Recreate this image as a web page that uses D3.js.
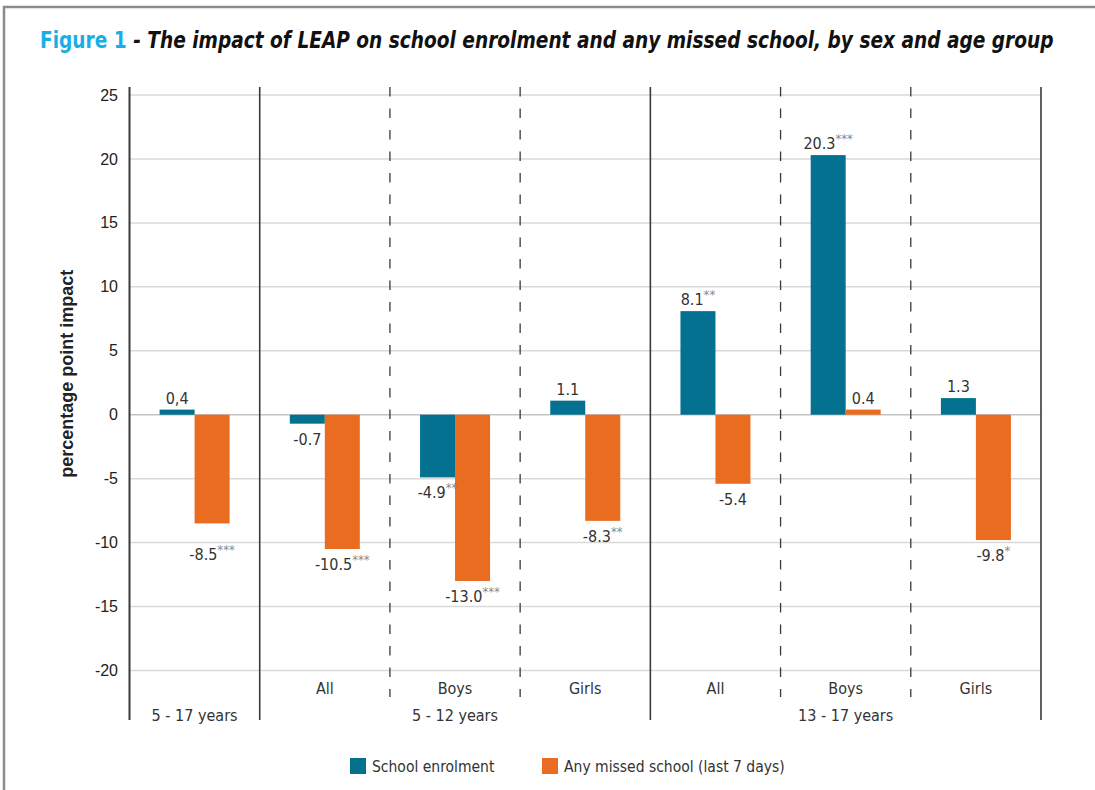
<!DOCTYPE html>
<html>
<head>
<meta charset="utf-8">
<script src="https://cdn.jsdelivr.net/npm/d3@7"></script>
<style>
  html, body { margin: 0; padding: 0; background: #fff; }
  svg { display: block; }
  .narrow { font-family: "Liberation Sans Narrow", "DejaVu Sans Condensed", sans-serif; font-stretch: condensed; }
</style>
</head>
<body>
<svg id="chart"></svg>
<script>
// chart data
const subLabels = ["", "All", "Boys", "Girls", "All", "Boys", "Girls"];
const ageGroups = ["5 - 17 years", "5 - 12 years", "13 - 17 years"];
const ageGroupOf = [0, 1, 1, 1, 2, 2, 2];
const seriesNames = ["School enrolment", "Any missed school (last 7 days)"];
const enrolment = [0.4, -0.7, -4.9, 1.1, 8.1, 20.3, 1.3];
const missed = [-8.5, -10.5, -13.0, -8.3, -5.4, 0.4, -9.8];
const enrolmentText = ["0,4", "-0.7", "-4.9", "1.1", "8.1", "20.3", "1.3"];
const missedText = ["-8.5", "-10.5", "-13.0", "-8.3", "-5.4", "0.4", "-9.8"];
const enrolmentStars = ["", "", "**", "", "**", "***", ""];
const missedStars = ["***", "***", "***", "**", "", "", "*"];
const yTicks = [25, 20, 15, 10, 5, 0, -5, -10, -15, -20];

const width = 1095, height = 790;
const colors = ["#03718f", "#e96c20"];
const plotLeft = 129.5, plotRight = 1041, plotTop = 95, plotBottom = 670.5;

const svg = d3.select("#chart").attr("width", width).attr("height", height);

// frame
svg.append("path")
  .attr("d", `M4,${height} L4,7 L${width},7`)
  .attr("fill", "none").attr("stroke", "#8c8c8c").attr("stroke-width", 2.5);

// title, squeezed horizontally to the width it takes in the original
const title = svg.append("text").attr("class", "narrow")
  .style("font-size", "23px").style("font-weight", "bold");
title.append("tspan").attr("fill", "#19aee8").text("Figure 1 ");
title.append("tspan").attr("fill", "#111").style("font-style", "italic")
  .text("- The impact of LEAP on school enrolment and any missed school, by sex and age group");
const titleW = title.node().getComputedTextLength();
title.attr("transform", `translate(40,48) scale(${1014 / titleW},1)`);

const y = d3.scaleLinear().domain([-20, 25]).range([plotBottom, plotTop]);
const idx = d3.range(subLabels.length);
const x = d3.scaleBand().domain(idx).range([plotLeft, plotRight]).padding(0);
const bw = x.bandwidth();
const x1 = d3.scaleBand().domain([0, 1]).range([bw / 2 - 35, bw / 2 + 35]);

const lineTop = y(25) - 8, lineBottom = 720, dashBottom = 697;

// grid lines
svg.append("g").selectAll("line").data(yTicks).join("line")
  .attr("x1", plotLeft).attr("x2", plotRight)
  .attr("y1", d => y(d)).attr("y2", d => y(d))
  .attr("stroke", d => d === 0 ? "#c4c4c4" : "#d9d9d9").attr("stroke-width", 1.5);

// y tick labels
svg.append("g").selectAll("text").data(yTicks).join("text")
  .attr("x", 118).attr("y", d => y(d)).attr("dy", "0.35em")
  .attr("text-anchor", "end")
  .style("font-family", "'Liberation Sans', Arial, sans-serif")
  .style("font-size", "16px").attr("fill", "#222")
  .text(d => d);

// y axis title
svg.append("text")
  .attr("transform", `translate(73,${(y(25) + y(-20)) / 2 - 9}) rotate(-90)`)
  .attr("text-anchor", "middle")
  .style("font-family", "'Liberation Sans', Arial, sans-serif")
  .style("font-size", "18px").style("font-weight", "bold").attr("fill", "#222")
  .text("percentage point impact");

// separators between categories
const seps = idx.map(i => ({
  xPos: x(i) + bw,
  solid: i === idx.length - 1 || ageGroupOf[i] !== ageGroupOf[i + 1]
}));
svg.append("line")
  .attr("x1", plotLeft).attr("x2", plotLeft).attr("y1", lineTop).attr("y2", lineBottom)
  .attr("stroke", "#3a3a3a").attr("stroke-width", 2);
svg.append("g").selectAll("line").data(seps).join("line")
  .attr("x1", d => d.xPos).attr("x2", d => d.xPos)
  .attr("y1", lineTop).attr("y2", d => d.solid ? lineBottom : dashBottom)
  .attr("stroke", "#3a3a3a")
  .attr("stroke-width", d => d.solid ? 1.6 : 1.3)
  .attr("stroke-dasharray", d => d.solid ? null : "9.5,12");

// bars
const series = [enrolment, missed];
const seriesText = [enrolmentText, missedText];
const seriesStars = [enrolmentStars, missedStars];
const barData = [];
series.forEach((vals, s) => vals.forEach((v, i) => barData.push({ s, i, v })));

svg.append("g").selectAll("rect").data(barData).join("rect")
  .attr("x", d => x(d.i) + x1(d.s))
  .attr("width", x1.bandwidth())
  .attr("y", d => y(Math.max(0, d.v)))
  .attr("height", d => Math.abs(y(d.v) - y(0)))
  .attr("fill", d => colors[d.s]);

// value labels
const extraDrop = { "1-0": 16 }; // the -8.5 label sits lower in the original
const labels = svg.append("g").selectAll("text").data(barData).join("text")
  .attr("class", "narrow")
  .attr("x", d => x(d.i) + x1(d.s) + x1.bandwidth() / 2)
  .attr("y", d => d.v >= 0 ? y(d.v) - 6 : y(d.v) + 21 + (extraDrop[d.s + "-" + d.i] || 0))
  .attr("text-anchor", "middle")
  .style("font-size", "16px").attr("fill", "#333");
labels.append("tspan").text(d => seriesText[d.s][d.i]);
labels.append("tspan")
  .attr("dy", -6).style("font-size", "13px").attr("fill", "#8a8a8a")
  .text(d => seriesStars[d.s][d.i]);

// category labels
svg.append("g").selectAll("text").data(idx).join("text")
  .attr("class", "narrow")
  .attr("x", i => x(i) + bw / 2).attr("y", 694)
  .attr("text-anchor", "middle").style("font-size", "16px").attr("fill", "#333")
  .text(i => subLabels[i]);

// age group labels
svg.append("g").selectAll("text").data(ageGroups).join("text")
  .attr("class", "narrow")
  .attr("x", (g, k) => {
    const members = idx.filter(i => ageGroupOf[i] === k);
    return (x(members[0]) + x(members[members.length - 1]) + bw) / 2;
  })
  .attr("y", 721)
  .attr("text-anchor", "middle").style("font-size", "16px").attr("fill", "#333")
  .text(g => g);

// legend
const legendX = [350, 542];
const legend = svg.append("g").selectAll("g").data(seriesNames).join("g")
  .attr("transform", (d, k) => `translate(${legendX[k]},758)`);
legend.append("rect").attr("width", 16).attr("height", 16).attr("fill", (d, k) => colors[k]);
legend.append("text").attr("class", "narrow")
  .attr("x", 22).attr("y", 14)
  .style("font-size", "15.5px").attr("fill", "#333")
  .text(d => d);
</script>
</body>
</html>
